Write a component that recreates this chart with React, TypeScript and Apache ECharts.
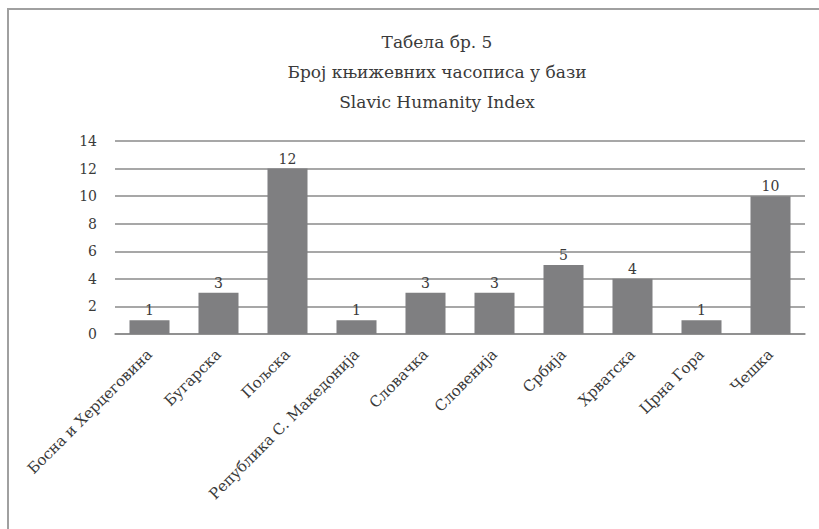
import React, { useEffect, useRef } from "react";
import * as echarts from "echarts";

const titleLines = ["Табела бр. 5", "Број књижевних часописа у бази", "Slavic Humanity Index"];
const categories = [
  "Босна и Херцеговина",
  "Бугарска",
  "Пољска",
  "Република С. Македонија",
  "Словачка",
  "Словенија",
  "Србија",
  "Хрватска",
  "Црна Гора",
  "Чешка",
];
const values = [1, 3, 12, 1, 3, 3, 5, 4, 1, 10];
const yMin = 0;
const yMax = 14;
const yInterval = 2;

const FONT = "DejaVu Serif";

export default function App() {
  const ref = useRef<HTMLDivElement>(null);
  useEffect(() => {
    if (!ref.current) return;
    const chart = echarts.init(ref.current, null, { renderer: "svg" });
    chart.setOption({
      animation: false,
      backgroundColor: "#ffffff",
      title: {
        text: titleLines.join("\n"),
        left: 432,
        top: 22,
        textAlign: "center",
        textStyle: {
          fontFamily: FONT,
          fontSize: 17,
          fontWeight: "normal",
          color: "#3a3a3a",
          lineHeight: 30,
        },
      },
      graphic: [
        {
          type: "rect",
          shape: { x: 8, y: 9, width: 900, height: 700 },
          style: { fill: "none", stroke: "#a0a0a0", lineWidth: 2 },
          silent: true,
        },
      ],
      grid: { left: 115, right: 14, top: 141, bottom: 195, containLabel: false },
      xAxis: {
        type: "category",
        data: categories,
        axisLine: { show: true, lineStyle: { color: "#8a8a8a", width: 1.5 } },
        axisTick: { show: false },
        axisLabel: {
          interval: 0,
          rotate: 45,
          margin: 18,
          fontFamily: FONT,
          fontSize: 15,
          color: "#3a3a3a",
        },
      },
      yAxis: {
        type: "value",
        min: yMin,
        max: yMax,
        interval: yInterval,
        axisLine: { show: false },
        axisTick: { show: false },
        axisLabel: { fontFamily: FONT, fontSize: 14, color: "#3a3a3a", margin: 18 },
        splitLine: { show: true, lineStyle: { color: "#8a8a8a", width: 1.5 } },
      },
      series: [
        {
          type: "bar",
          data: values,
          barWidth: "58%",
          itemStyle: { color: "#7f7f81" },
          label: {
            show: true,
            position: "top",
            distance: 3,
            fontFamily: FONT,
            fontSize: 14,
            color: "#3a3a3a",
          },
        },
      ],
    });
    return () => chart.dispose();
  }, []);
  return (
    <div
      ref={ref}
      style={{ position: "fixed", left: 0, top: 0, width: 819, height: 529 }}
    />
  );
}
